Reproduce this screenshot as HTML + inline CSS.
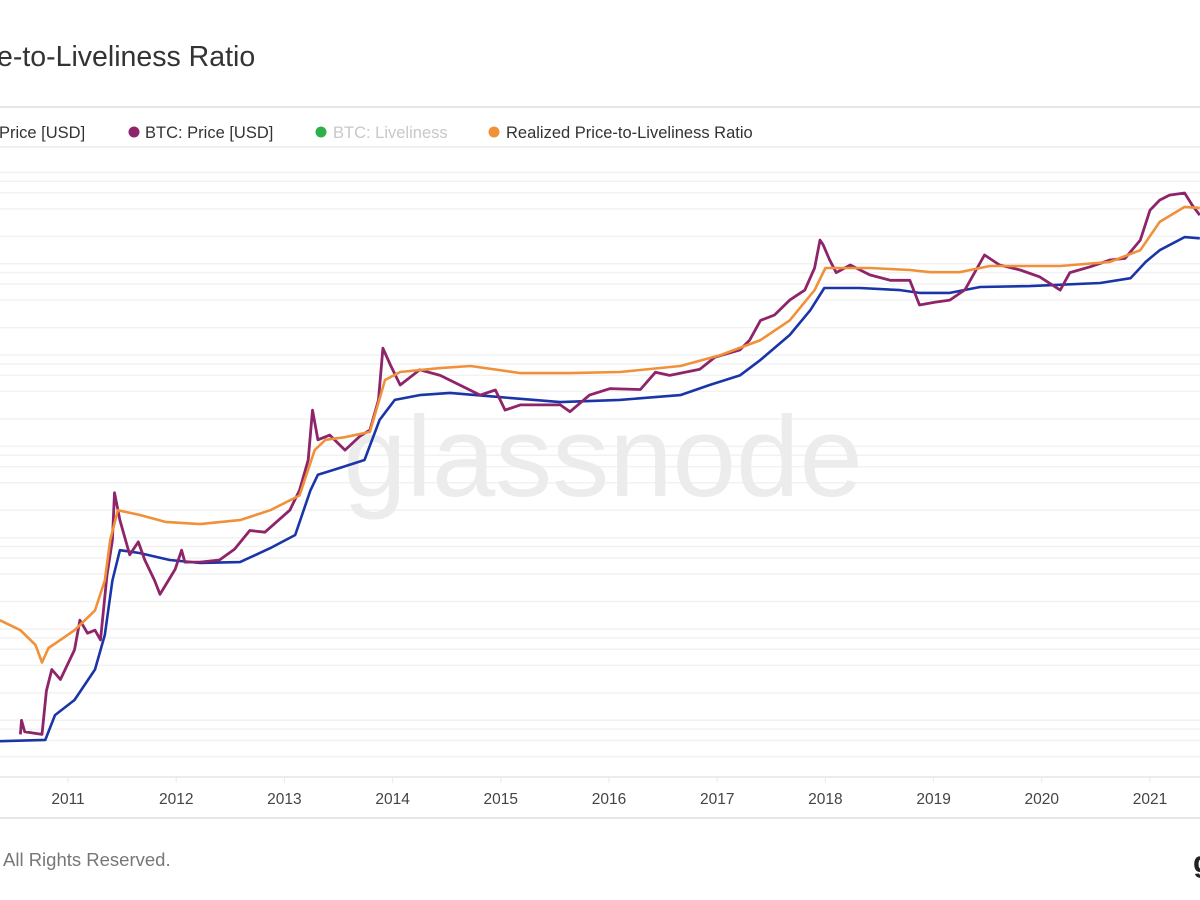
<!DOCTYPE html>
<html><head><meta charset="utf-8">
<style>
html,body{margin:0;padding:0;background:#fff;width:1200px;height:900px;overflow:hidden;font-family:"Liberation Sans",sans-serif}
</style></head>
<body>
<svg id="chart" width="1200" height="900" viewBox="0 0 1200 900" xmlns="http://www.w3.org/2000/svg" font-family="Liberation Sans, sans-serif">
  <text x="-3" y="66" font-size="28.5" fill="#333">e-to-Liveliness Ratio</text>
  <line x1="0" y1="107" x2="1200" y2="107" stroke="#e6e6e6" stroke-width="2"/>
  <g font-size="16.5">
    <text x="-1" y="138" fill="#333">Price [USD]</text>
    <circle cx="134" cy="132" r="5.5" fill="#8e2469"/>
    <text x="145" y="138" fill="#333">BTC: Price [USD]</text>
    <circle cx="321" cy="132" r="5.5" fill="#2db04b"/>
    <text x="333" y="138" fill="#c8c8c8">BTC: Liveliness</text>
    <circle cx="494" cy="132" r="5.5" fill="#f0913a"/>
    <text x="506" y="138" fill="#333">Realized Price-to-Liveliness Ratio</text>
  </g>
  <line x1="0" y1="147" x2="1200" y2="147" stroke="#f0f0f0" stroke-width="2"/>
  <g id="grid"></g>
  <text x="603" y="496" font-size="114" fill="#ececec" text-anchor="middle" font-weight="400">glassnode</text>
  <g id="xaxis"></g>
  <g id="series"></g>
  <line x1="0" y1="818" x2="1200" y2="818" stroke="#e6e6e6" stroke-width="2"/>
  <text x="3" y="866" font-size="18.5" fill="#777">All Rights Reserved.</text>
  <text x="1193" y="872" font-size="30" font-weight="bold" fill="#222">g</text>
</svg>
<script>
const yearTicks = [2011,2012,2013,2014,2015,2016,2017,2018,2019,2020,2021];
const gridMultipliers = [1,2,4,6,8];
const gridDecades = [-2,-1,0,1,2,3,4,5];

const priceDates = [2010.56,2010.57,2010.60,2010.76,2010.80,2010.85,2010.93,2011.06,2011.11,2011.18,2011.25,2011.30,2011.36,2011.41,2011.43,2011.48,2011.57,2011.65,2011.71,2011.80,2011.85,2011.90,2011.99,2012.05,2012.08,2012.22,2012.40,2012.54,2012.68,2012.82,2013.05,2013.14,2013.22,2013.26,2013.31,2013.42,2013.56,2013.70,2013.79,2013.87,2013.91,2013.98,2014.07,2014.25,2014.44,2014.62,2014.81,2014.95,2015.04,2015.18,2015.36,2015.55,2015.64,2015.82,2016.01,2016.29,2016.43,2016.56,2016.84,2016.98,2017.21,2017.30,2017.40,2017.53,2017.67,2017.81,2017.90,2017.95,2017.98,2018.04,2018.10,2018.23,2018.41,2018.60,2018.78,2018.87,2019.01,2019.15,2019.29,2019.47,2019.61,2019.80,2019.98,2020.17,2020.26,2020.45,2020.63,2020.77,2020.91,2021.00,2021.09,2021.18,2021.32,2021.39,2021.46];
const priceValues = [0.07,0.10,0.075,0.07,0.21,0.36,0.28,0.59,1.25,0.9,0.97,0.76,3.9,9.4,31,15.6,6.5,9,5.7,3.4,2.4,3,4.5,7.3,5.4,5.4,5.7,7.5,12,11.5,20,33,71,250,118,133,91,130,151,323,1190,780,470,690,600,470,365,415,250,285,285,285,240,365,430,420,650,600,700,950,1140,1460,2400,2750,4000,5150,9000,18200,16100,11000,8000,9700,7550,6600,6600,3540,3800,4000,5200,12500,9700,8550,7200,5150,8000,9300,11000,11500,18200,38600,49800,56500,59600,44000,34100];

const realizedDates = [2010.37,2010.79,2010.88,2011.06,2011.25,2011.34,2011.41,2011.48,2011.66,2011.94,2012.22,2012.59,2012.87,2013.10,2013.24,2013.31,2013.51,2013.74,2013.88,2014.02,2014.25,2014.53,2014.99,2015.55,2016.10,2016.66,2016.93,2017.21,2017.40,2017.67,2017.86,2017.99,2018.32,2018.69,2018.87,2019.15,2019.43,2019.89,2020.54,2020.82,2020.96,2021.09,2021.32,2021.46];
const realizedValues = [0.059,0.061,0.114,0.167,0.36,0.86,3.4,7.3,6.8,5.7,5.3,5.4,7.7,10.7,33,49,58,71,195,323,365,385,347,306,323,365,470,600,885,1660,3100,5430,5430,5150,4800,4800,5570,5700,6160,6950,10500,14100,19600,19000];

const ratioDates = [2010.37,2010.56,2010.70,2010.76,2010.82,2010.93,2011.06,2011.25,2011.34,2011.39,2011.46,2011.67,2011.90,2012.22,2012.59,2012.87,2013.14,2013.28,2013.38,2013.56,2013.79,2013.93,2014.07,2014.44,2014.72,2015.18,2015.64,2016.10,2016.66,2017.03,2017.40,2017.67,2017.90,2018.00,2018.41,2018.78,2018.97,2019.24,2019.52,2020.17,2020.63,2020.91,2021.09,2021.32,2021.46];
const ratioValues = [1.25,0.97,0.67,0.43,0.62,0.76,0.97,1.6,3.4,9.4,20,17.7,14.9,14.1,15.6,20,29,91,118,126,144,533,653,720,760,635,635,653,760,1000,1460,2400,5150,9000,9000,8550,8100,8100,9460,9460,10500,14100,28800,42000,41000];

const NS = "http://www.w3.org/2000/svg";
function xScale(t){ return 68 + (t - 2011) * 108.2; }
function yScale(v){ return 629 - 91.3 * Math.log10(v); }

const grid = document.getElementById('grid');
gridDecades.forEach(d => gridMultipliers.forEach(m => {
  const y = yScale(m * Math.pow(10, d));
  if (y < 150 || y > 776) return;
  const l = document.createElementNS(NS, 'line');
  
  
  l.setAttribute('x1', 0); l.setAttribute('x2', 1200);
  l.setAttribute('y1', y); l.setAttribute('y2', y);
  l.setAttribute('stroke', '#f2f2f2'); l.setAttribute('stroke-width', '1.5');
  grid.appendChild(l);
}));

const xa = document.getElementById('xaxis');
const axisLine = document.createElementNS(NS, 'line');


axisLine.setAttribute('x1', 0); axisLine.setAttribute('x2', 1200);
axisLine.setAttribute('y1', 777); axisLine.setAttribute('y2', 777);
axisLine.setAttribute('stroke', '#e6e6e6'); axisLine.setAttribute('stroke-width', '1.5');
xa.appendChild(axisLine);
yearTicks.forEach(yr => {
  const x = xScale(yr);
  const tk = document.createElementNS(NS, 'line');
  
  
  tk.setAttribute('x1', x); tk.setAttribute('x2', x);
  tk.setAttribute('y1', 777); tk.setAttribute('y2', 783);
  tk.setAttribute('stroke', '#eaeaea');
  xa.appendChild(tk);
  const t = document.createElementNS(NS, 'text');
  
  
  t.setAttribute('x', x); t.setAttribute('y', 804);
  t.setAttribute('text-anchor', 'middle');
  t.setAttribute('font-size', '15.5');
  t.setAttribute('fill', '#444');
  t.textContent = yr;
  xa.appendChild(t);
});

const series = document.getElementById('series');
function drawLine(dates, values, color, name, w){
  const d = dates.map((t, i) => (i ? 'L' : 'M') + xScale(t).toFixed(1) + ',' + yScale(values[i]).toFixed(1)).join(' ');
  const p = document.createElementNS(NS, 'path');
  
  
  p.setAttribute('d', d);
  p.setAttribute('fill', 'none');
  p.setAttribute('stroke', color);
  p.setAttribute('stroke-width', w);
  p.setAttribute('stroke-linejoin', 'round');
  series.appendChild(p);
}
drawLine(realizedDates, realizedValues, '#1a35a8', 'realized-price-line', 2.6);
drawLine(priceDates, priceValues, '#8e2469', 'btc-price-line', 2.8);
drawLine(ratioDates, ratioValues, '#f0913a', 'ratio-line', 2.6);
</script>
</body></html>
